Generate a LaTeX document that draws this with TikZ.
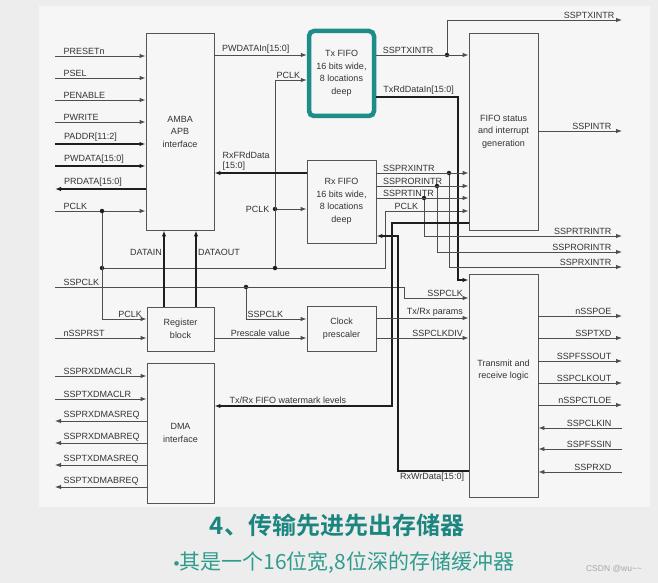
\documentclass[tikz,border=0pt]{standalone}
\usepackage{fontspec}
\setmainfont{Liberation Sans}
\setsansfont{Liberation Sans}
\newfontfamily\cjkfont{Noto Sans CJK SC}[BoldFont={Noto Sans CJK SC Bold}]
\usetikzlibrary{arrows.meta}

\definecolor{outerbg}{HTML}{EDEDED}
\definecolor{panelbg}{HTML}{F6F6F6}
\definecolor{textgray}{HTML}{333333}
\definecolor{linegray}{HTML}{4E4E4E}
\definecolor{busblack}{HTML}{1E1E1E}
\definecolor{framegray}{HTML}{555555}
\definecolor{fifoteal}{HTML}{1E8C88}
\definecolor{titleteal}{HTML}{1B857F}
\definecolor{subteal}{HTML}{2F9C8E}
\definecolor{markgray}{HTML}{A8A8A8}

\begin{document}
\begin{tikzpicture}[
                x=1pt, y=-1pt,
                box/.style={
                    draw=framegray,
                    fill=panelbg,
                    rectangle,
                    line width=0.9pt,
                    inner sep=0pt,
                    align=center,
                    text=textgray,
                    font=\sffamily\fontsize{9}{12.5}\selectfont
                },
                highlightbox/.style={
                    box,
                    draw=fifoteal,
                    line width=4.5pt,
                    rounded corners=5pt
                },
                boxtext/.style={
                    align=center,
                    text=textgray,
                    font=\sffamily\fontsize{9}{12.5}\selectfont
                },
                sig/.style={draw=linegray, line width=0.9pt},
                bus/.style={draw=busblack, line width=1.9pt},
                arrow/.style={
                    >={Latex[length=6pt,width=4.5pt]},
                    ->
                },
                lbl/.style={
                    inner sep=1.2pt,
                    text=textgray,
                    font=\sffamily\fontsize{9}{10.5}\selectfont
                },
                dot/.style={circle, fill=busblack, inner sep=0pt, minimum size=4.5pt}
            ]

                \useasboundingbox (0,0) rectangle (658,583);
                \fill[outerbg] (0,0) rectangle (658,583);
                \fill[panelbg] (39,6) rectangle (650,507);

                \node[box, minimum width=68pt, minimum height=197pt] (apb) at (180,131.5) {AMBA\\APB\\interface};
                \node[highlightbox, minimum width=65pt, minimum height=85pt] (txfifo) at (341.5,73.5) {Tx FIFO\\16 bits wide,\\8 locations\\deep};
                \node[box, minimum width=69pt, minimum height=83pt] (rxfifo) at (341.5,201.5) {Rx FIFO\\16 bits wide,\\8 locations\\deep};
                \node[box, minimum width=69pt, minimum height=197pt] (status) at (503.5,131.5) {FIFO status\\and interrupt\\generation};
                \node[box, minimum width=69pt, minimum height=223pt] (txrx) at (503.5,385.5) {};
                \node[boxtext] (txrxtext) at (503.5,370) {Transmit and\\receive logic};
                \node[box, minimum width=67pt, minimum height=44pt] (regblock) at (180.5,329) {Register\\block};
                \node[box, minimum width=69pt, minimum height=45pt] (prescaler) at (341.5,328.5) {Clock\\prescaler};
                \node[box, minimum width=67pt, minimum height=140pt] (dma) at (180.5,433) {DMA\\interface};

                \coordinate (presetn) at (55,56);
                \coordinate (psel) at (55,78);
                \coordinate (penable) at (55,100);
                \coordinate (pwrite) at (55,122);
                \coordinate (paddr) at (55,144);
                \coordinate (pwdata) at (55,166);
                \coordinate (prdata) at (55,189);
                \coordinate (pclk) at (55,211);
                \coordinate (sspclk) at (55,287);
                \coordinate (nssprst) at (55,338);

                \draw[sig, arrow] (presetn) node[lbl, above right, xshift=7pt] (lpresetn) {PRESETn} -- (presetn -| apb.west);
                \draw[sig, arrow] (psel) node[lbl, above right, xshift=7pt] (lpsel) {PSEL} -- (psel -| apb.west);
                \draw[sig, arrow] (penable) node[lbl, above right, xshift=7pt] (lpenable) {PENABLE} -- (penable -| apb.west);
                \draw[sig, arrow] (pwrite) node[lbl, above right, xshift=7pt] (lpwrite) {PWRITE} -- (pwrite -| apb.west);
                \draw[bus, arrow] (paddr) node[lbl, above right, xshift=7pt] (lpaddr) {PADDR[11:2]} -- (paddr -| apb.west);
                \draw[bus, arrow] (pwdata) node[lbl, above right, xshift=7pt] (lpwdata) {PWDATA[15:0]} -- (pwdata -| apb.west);
                \draw[bus, arrow] (prdata -| apb.west) -- (prdata) node[lbl, above right, xshift=7pt] (lprdata) {PRDATA[15:0]};
                \draw[sig, arrow] (pclk) node[lbl, above right, xshift=7pt] (lpclk) {PCLK} -- (pclk -| apb.west);

                \node[dot] (dpclka) at (102,211) {};
                \node[dot] (dpclkb) at (102,268) {};
                \node[dot] (dpclkc) at (275,268) {};
                \node[dot] (dpclkd) at (275,209) {};
                \draw[sig, arrow] (dpclka) |- (regblock.west |- 0,319) node[lbl, pos=1, above left, xshift=-3pt] (lpclkreg) {PCLK};
                \draw[sig] (dpclkb) -- (dpclkc);
                \draw[sig, arrow] (dpclkc) |- (txfifo.west |- 0,80) node[lbl, pos=0.5, above right] (lpclktx) {PCLK};
                \draw[sig, arrow] (dpclkd) node[lbl, left, xshift=-4pt] (lpclkrx) {PCLK} -- (rxfifo.west |- dpclkd);
                \draw[sig, arrow] (dpclkc) -- (385,268) |- (status.west |- 0,211) node[lbl, pos=0.5, above right, xshift=8pt] (lpclkst) {PCLK};

                \node[dot] (dsspclk) at (246,287) {};
                \draw[sig, arrow] (sspclk) node[lbl, above right, xshift=7pt] (lsspclk) {SSPCLK} -- (404,287) |- (txrx.west |- 0,298) node[lbl, pos=1, above left, xshift=-4pt] (lsspclktr) {SSPCLK};
                \draw[sig, arrow] (dsspclk) |- (prescaler.west |- 0,319) node[lbl, pos=0.5, above right] (lsspclkpre) {SSPCLK};
                \draw[sig, arrow] (nssprst) node[lbl, above right, xshift=7pt] (lnssprst) {nSSPRST} -- (nssprst -| regblock.west);

                \draw[bus, arrow] (regblock.north -| 164,0) -- (apb.south -| 164,0) node[lbl, pos=0.71, left] (ldatain) {DATAIN};
                \draw[bus, arrow] (regblock.north -| 196,0) -- (apb.south -| 196,0) node[lbl, pos=0.71, right] (ldataout) {DATAOUT};
                \draw[sig, arrow] (regblock.east |- 0,338) -- (prescaler.west |- 0,338) node[lbl, midway, above] (lprescale) {Prescale value};

                \draw[sig, arrow] (apb.east |- 0,55) node[lbl, above right, xshift=6pt] (lpwdatain) {PWDATAIn[15:0]} -- (txfifo.west |- 0,55);
                \draw[bus, arrow] (rxfifo.west |- 0,173) -- (apb.east |- 0,173) node[lbl, above right, align=left, xshift=6pt] (lrxfrd) {RxFRdData\\{}[15:0]};

                \node[dot] (dtxintr) at (447,55) {};
                \coordinate (ssptxintr) at (622,20);
                \draw[sig, arrow] (txfifo.east |- 0,55) node[lbl, above right, xshift=5pt] (ltxintr) {SSPTXINTR} -- (status.west |- 0,55);
                \draw[sig, arrow] (dtxintr) |- (ssptxintr) node[lbl, pos=1, above left, xshift=-6pt] (lssptxintr) {SSPTXINTR};
                \draw[bus, arrow] (txfifo.east |- 0,97) node[lbl, above right, xshift=5pt] (ltxrd) {TxRdDataIn[15:0]} -- (458,97) |- (txrx.west |- 0,280);

                \coordinate (sspintr) at (622,131);
                \draw[sig, arrow] (status.east |- sspintr) -- (sspintr) node[lbl, above left, xshift=-9pt] (lsspintr) {SSPINTR};

                \node[dot] (drxintr) at (449,173) {};
                \node[dot] (drorintr) at (437,186) {};
                \node[dot] (drtintr) at (424,198) {};
                \coordinate (ssprtrintr) at (622,236);
                \coordinate (ssprorintr) at (622,252);
                \coordinate (ssprxintr) at (622,267);
                \draw[sig, arrow] (rxfifo.east |- drxintr) node[lbl, above right, xshift=5pt] (lrxintr) {SSPRXINTR} -- (status.west |- drxintr);
                \draw[sig, arrow] (rxfifo.east |- drorintr) node[lbl, above right, xshift=5pt] (lrorintr) {SSPRORINTR} -- (status.west |- drorintr);
                \draw[sig, arrow] (rxfifo.east |- drtintr) node[lbl, above right, xshift=5pt] (lrtintr) {SSPRTINTR} -- (status.west |- drtintr);
                \draw[sig, arrow] (drtintr) |- (ssprtrintr) node[lbl, pos=1, above left, xshift=-9pt] (lssprtrintr) {SSPRTRINTR};
                \draw[sig, arrow] (drorintr) |- (ssprorintr) node[lbl, pos=1, above left, xshift=-9pt] (lssprorintr) {SSPRORINTR};
                \draw[sig, arrow] (drxintr) |- (ssprxintr) node[lbl, pos=1, above left, xshift=-9pt] (lssprxintr) {SSPRXINTR};

                \coordinate (wmark) at (392,223);
                \draw[bus, arrow] (status.west |- wmark) -- (wmark) |- (dma.east |- 0,406) node[lbl, pos=1, above right, xshift=13pt] (lwmark) {Tx/Rx FIFO watermark levels};
                \coordinate (rxwr) at (398,471);
                \draw[bus, arrow] (txrx.west |- rxwr) -- (rxwr) node[lbl, below right] (lrxwr) {RxWrData[15:0]} |- (rxfifo.east |- 0,236);

                \draw[sig, arrow] (prescaler.east |- 0,318) -- (txrx.west |- 0,318) node[lbl, pos=1, above left, xshift=-4pt] (lparams) {Tx/Rx params};
                \draw[sig, arrow] (prescaler.east |- 0,338) -- (txrx.west |- 0,338) node[lbl, pos=1, above left, xshift=-4pt] (lclkdiv) {SSPCLKDIV};

                \coordinate (nsspoe) at (622,316);
                \coordinate (ssptxd) at (622,338);
                \coordinate (sspfssout) at (622,361);
                \coordinate (sspclkout) at (622,383);
                \coordinate (nsspctloe) at (622,405);
                \coordinate (sspclkin) at (622,428);
                \coordinate (sspfssin) at (622,449);
                \coordinate (ssprxd) at (622,472);
                \draw[sig, arrow] (txrx.east |- nsspoe) -- (nsspoe) node[lbl, above left, xshift=-9pt] (lnsspoe) {nSSPOE};
                \draw[sig, arrow] (txrx.east |- ssptxd) -- (ssptxd) node[lbl, above left, xshift=-9pt] (lssptxd) {SSPTXD};
                \draw[sig, arrow] (txrx.east |- sspfssout) -- (sspfssout) node[lbl, above left, xshift=-9pt] (lsspfssout) {SSPFSSOUT};
                \draw[sig, arrow] (txrx.east |- sspclkout) -- (sspclkout) node[lbl, above left, xshift=-9pt] (lsspclkout) {SSPCLKOUT};
                \draw[sig, arrow] (txrx.east |- nsspctloe) -- (nsspctloe) node[lbl, above left, xshift=-9pt] (lnsspctloe) {nSSPCTLOE};
                \draw[sig, arrow] (sspclkin) node[lbl, above left, xshift=-9pt] (lsspclkin) {SSPCLKIN} -- (txrx.east |- sspclkin);
                \draw[sig, arrow] (sspfssin) node[lbl, above left, xshift=-9pt] (lsspfssin) {SSPFSSIN} -- (txrx.east |- sspfssin);
                \draw[sig, arrow] (ssprxd) node[lbl, above left, xshift=-9pt] (lssprxd) {SSPRXD} -- (txrx.east |- ssprxd);

                \coordinate (rxdmaclr) at (55,376);
                \coordinate (txdmaclr) at (55,399);
                \coordinate (rxdmasreq) at (55,421);
                \coordinate (rxdmabreq) at (55,443);
                \coordinate (txdmasreq) at (55,465);
                \coordinate (txdmabreq) at (55,487);
                \draw[sig, arrow] (rxdmaclr) node[lbl, above right, xshift=7pt] (lrxdmaclr) {SSPRXDMACLR} -- (rxdmaclr -| dma.west);
                \draw[sig, arrow] (txdmaclr) node[lbl, above right, xshift=7pt] (ltxdmaclr) {SSPTXDMACLR} -- (txdmaclr -| dma.west);
                \draw[sig, arrow] (rxdmasreq -| dma.west) -- (rxdmasreq) node[lbl, above right, xshift=7pt] (lrxdmasreq) {SSPRXDMASREQ};
                \draw[sig, arrow] (rxdmabreq -| dma.west) -- (rxdmabreq) node[lbl, above right, xshift=7pt] (lrxdmabreq) {SSPRXDMABREQ};
                \draw[sig, arrow] (txdmasreq -| dma.west) -- (txdmasreq) node[lbl, above right, xshift=7pt] (ltxdmasreq) {SSPTXDMASREQ};
                \draw[sig, arrow] (txdmabreq -| dma.west) -- (txdmabreq) node[lbl, above right, xshift=7pt] (ltxdmabreq) {SSPTXDMABREQ};

                \node[text=titleteal, font=\cjkfont\bfseries\fontsize{24}{28}\selectfont] (title) at (337,525) {4、传输先进先出存储器};
                \node[text=subteal, font=\cjkfont\fontsize{21}{24}\selectfont] (subtitle) at (344,563) {{\sffamily\fontsize{17}{20}\selectfont\textbullet}其是一个16位宽,8位深的存储缓冲器};
                \node[text=markgray, font=\sffamily\fontsize{8.5}{10}\selectfont] (csdn) at (614,569) {CSDN @wu\textasciitilde\textasciitilde};
        \end{tikzpicture}
\end{document}
